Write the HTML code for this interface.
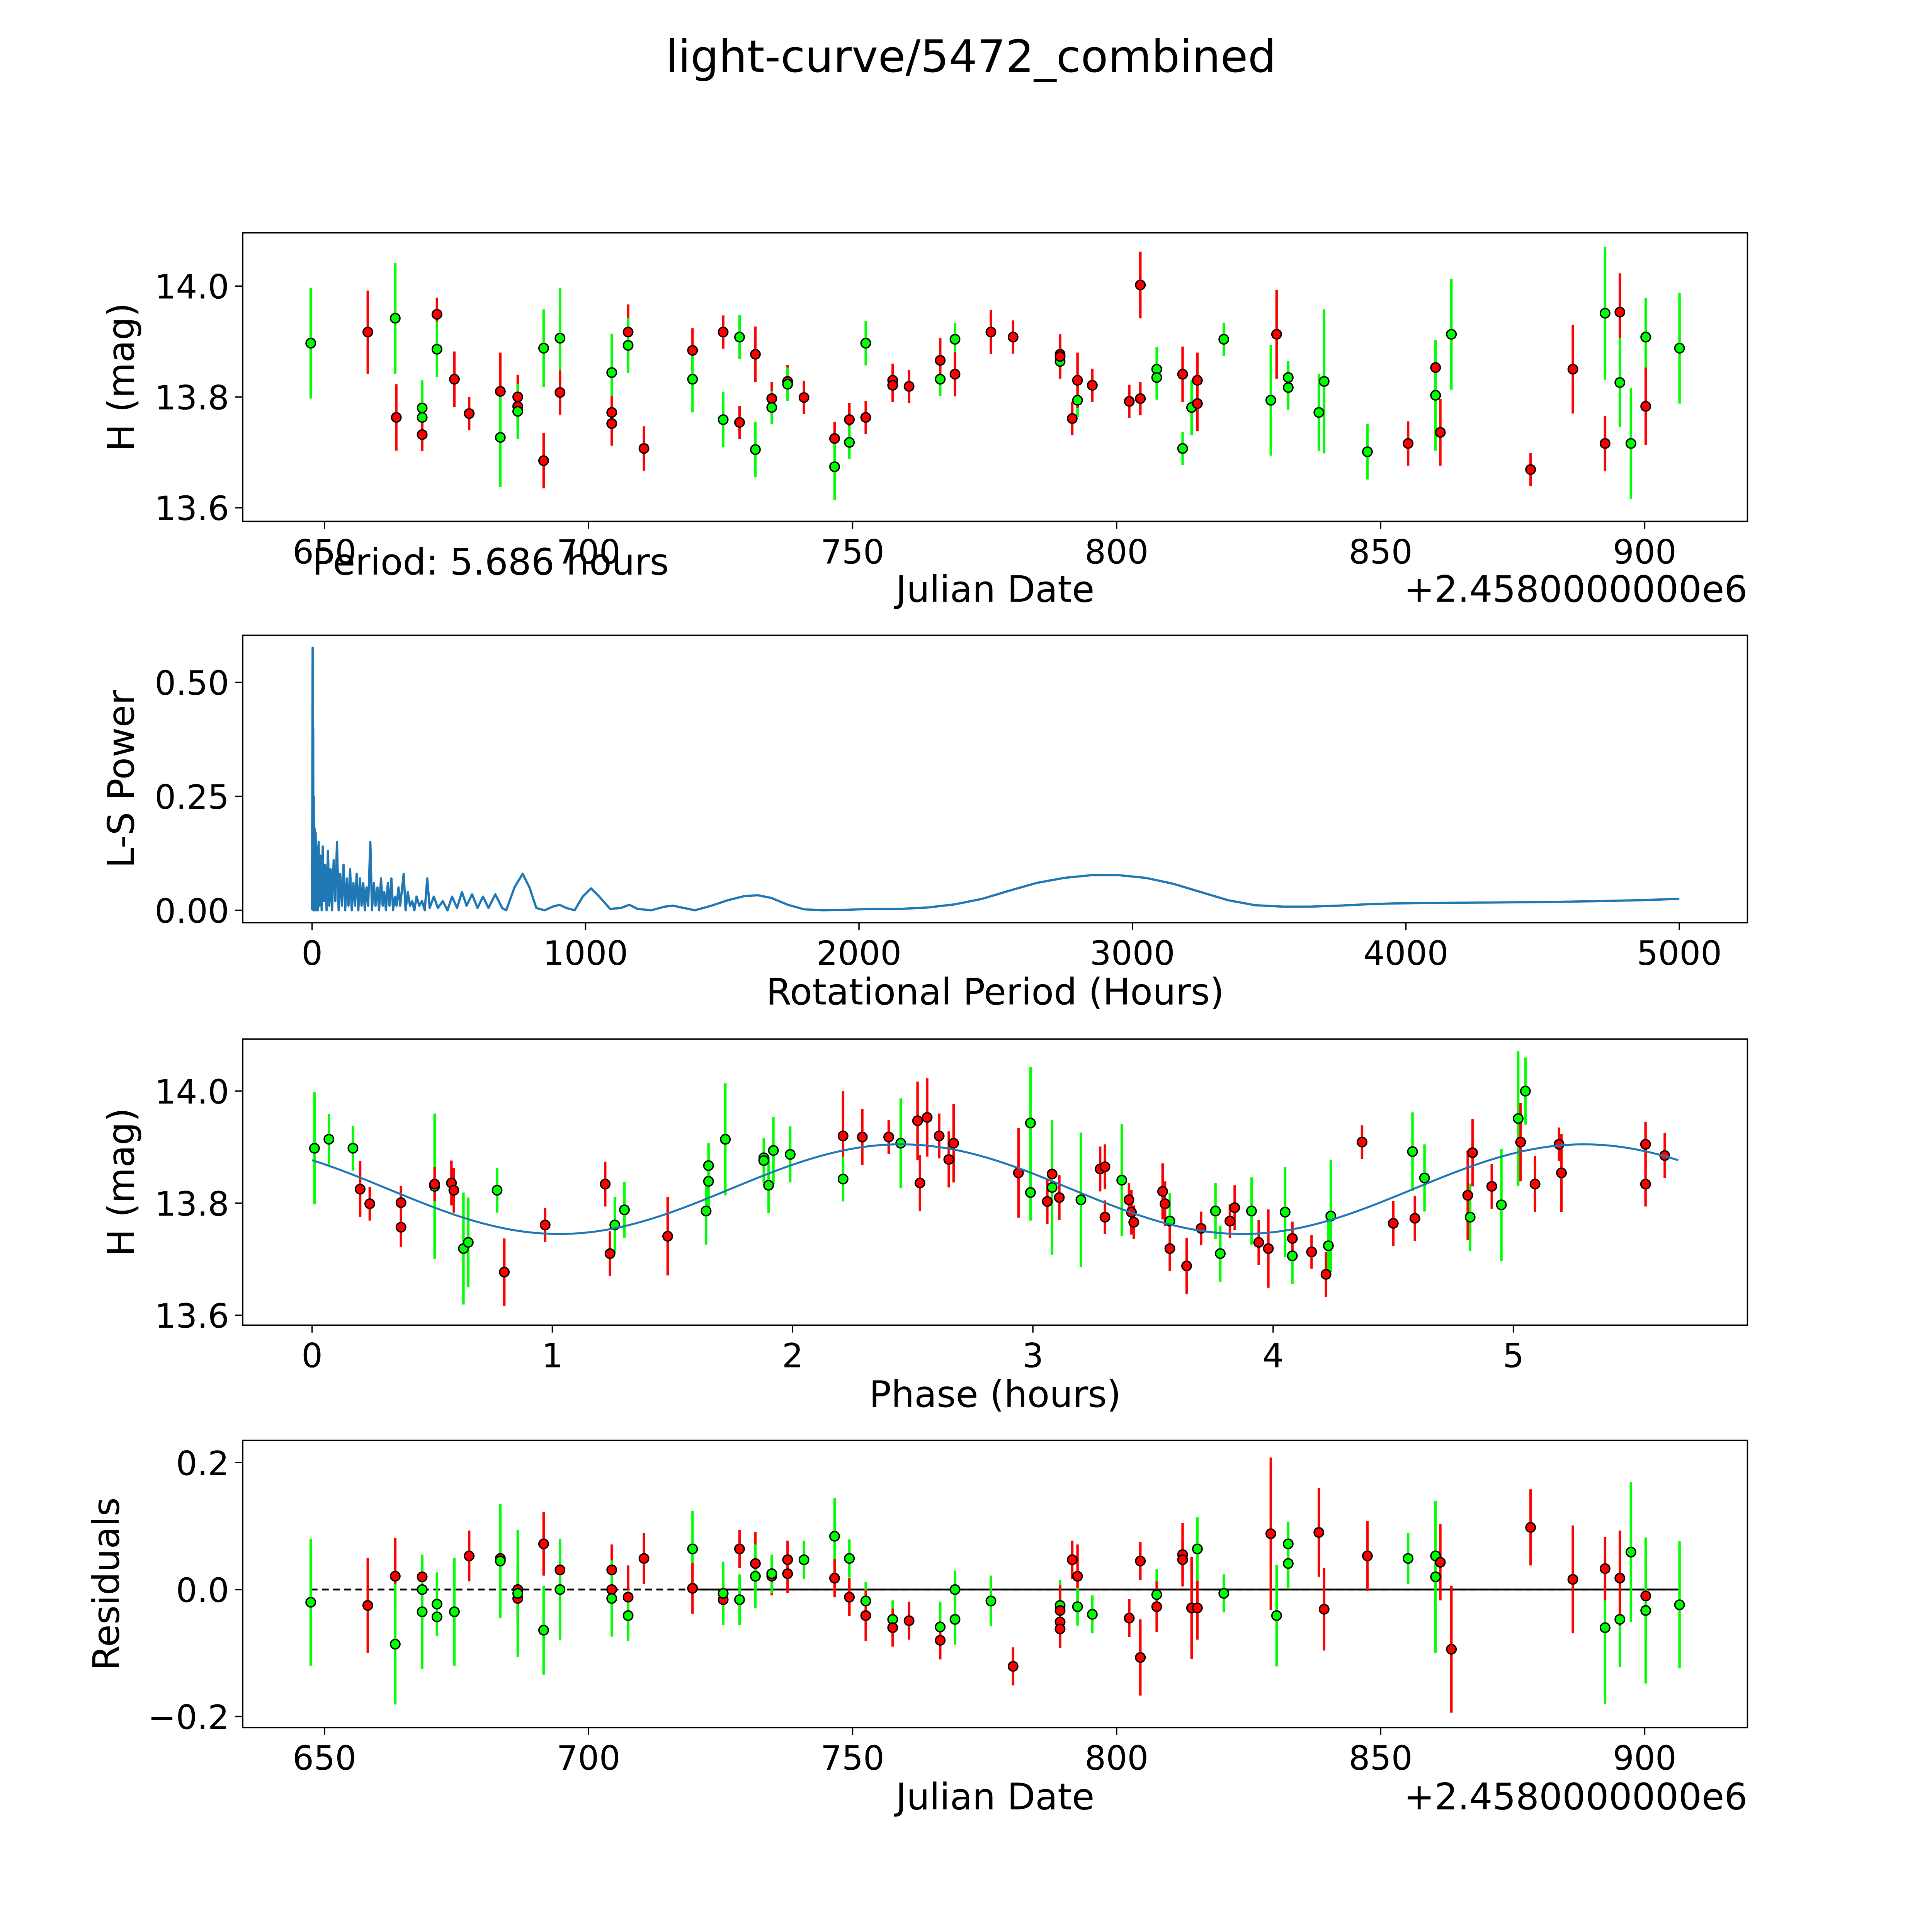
<!DOCTYPE html>
<html><head><meta charset="utf-8">
<style>
html,body{margin:0;padding:0;background:#fff;width:100%;height:100%;overflow:hidden;}
svg{display:block;position:fixed;left:0;top:0;width:100vw;height:100vh;}
text{font-family:"DejaVu Sans","Liberation Sans",sans-serif;fill:#000;}
</style></head>
<body>
<svg id="fig" xmlns="http://www.w3.org/2000/svg" viewBox="0 0 1560 1560" preserveAspectRatio="none">
<rect x="0" y="0" width="1560" height="1560" fill="#fff"/>
<text x="784" y="58" font-size="36" text-anchor="middle">light-curve/5472_combined</text>
<g id="p1"></g>
<g id="p2"></g>
<g id="p3"></g>
<g id="p4"></g>
</svg>
<script>
// ---- Panel 1 data: Julian date offset, H mag, error, color
const p1Dates=[647.4,658.2,663.4,663.6,668.5,668.5,668.5,671.3,671.3,674.6,677.4,683.3,683.3,686.6,686.6,686.6,691.5,691.5,694.6,694.6,704.4,704.4,704.4,707.5,707.5,710.5,719.7,719.7,725.5,725.5,728.6,728.6,731.6,731.6,734.7,734.7,737.7,737.7,740.8,746.6,746.6,749.4,749.4,752.5,752.5,757.6,757.6,760.7,766.6,766.6,769.4,769.4,776.2,780.4,789.3,789.3,789.3,791.6,792.6,792.6,795.4,802.4,804.5,804.5,807.6,807.6,812.5,812.5,814.2,815.3,815.3,820.3,829.2,830.3,832.5,832.5,838.3,839.3,847.5,855.2,860.4,860.4,861.3,863.4,878.4,886.4,892.5,892.5,895.3,895.3,897.4,900.2,900.2,906.6];
const p1Mags=[13.897,13.917,13.942,13.763,13.78,13.763,13.732,13.949,13.886,13.832,13.77,13.81,13.727,13.80,13.783,13.774,13.685,13.888,13.906,13.808,13.844,13.772,13.752,13.917,13.893,13.707,13.884,13.832,13.917,13.759,13.908,13.754,13.877,13.705,13.797,13.781,13.828,13.823,13.799,13.725,13.674,13.759,13.718,13.763,13.897,13.830,13.821,13.819,13.832,13.866,13.904,13.841,13.917,13.908,13.877,13.864,13.873,13.761,13.794,13.830,13.821,13.792,13.797,14.002,13.850,13.835,13.841,13.707,13.781,13.788,13.830,13.904,13.794,13.913,13.835,13.817,13.772,13.828,13.701,13.716,13.853,13.803,13.736,13.913,13.669,13.850,13.951,13.716,13.953,13.826,13.716,13.908,13.783,13.888];
const p1Errs=[0.1,0.075,0.1,0.06,0.05,0.05,0.03,0.03,0.05,0.05,0.03,0.07,0.09,0.04,0.04,0.05,0.05,0.07,0.09,0.04,0.07,0.03,0.04,0.05,0.05,0.04,0.04,0.06,0.03,0.05,0.04,0.03,0.05,0.05,0.03,0.03,0.03,0.03,0.03,0.03,0.06,0.03,0.03,0.03,0.04,0.03,0.03,0.03,0.03,0.04,0.03,0.04,0.04,0.03,0.03,0.03,0.04,0.03,0.03,0.05,0.03,0.03,0.03,0.06,0.04,0.04,0.05,0.03,0.05,0.05,0.05,0.03,0.1,0.08,0.03,0.04,0.07,0.13,0.05,0.04,0.04,0.1,0.06,0.1,0.03,0.08,0.12,0.05,0.07,0.08,0.1,0.07,0.07,0.1];
const p1Colors="grgrggrrgrrrgrrgrggrgrrrgrrgrggrrgrgrgrrgrgrgrrrgrgrrrrgrrgrrrrrggrggrrggrgggggrrgrgrrgrrgggrgr";
// ---- Panel 2 data: Lomb-Scargle periodogram (period hours, power)
const lsPeriods=[0,1,2,3,4,5,6,7,9,11,13,15,18,21,24,27,31,35,39,43,48,53,58,63,68,73,79,85,91,97,103,109,115,121,127,133,139,145,151,157,163,169,175,181,187,193,199,205,213,219,226,232,239,245,252,258,264,270,277,283,290,296,303,309,316,322,335,342,350,358,366,374,382,392,402,412,421,430,445,460,478,495,512,530,548,565,585,605,625,645,670,695,710,740,770,795,820,850,880,905,930,960,990,1020,1050,1090,1130,1160,1190,1240,1290,1320,1360,1400,1460,1520,1580,1630,1680,1740,1800,1870,1950,2050,2150,2250,2350,2450,2550,2650,2750,2850,2950,3050,3150,3250,3350,3450,3550,3650,3750,3850,3950,4100,4300,4500,4700,4850,5000];
const lsPowers=[0,0.3,0.576,0.05,0.40,0,0.25,0,0.18,0,0.17,0,0.14,0,0.15,0.01,0.12,0,0.14,0.02,0.1,0,0.13,0.01,0.09,0,0.11,0.02,0.15,0,0.08,0.01,0.1,0,0.07,0.01,0.09,0,0.06,0.01,0.08,0,0.07,0.01,0.06,0,0.05,0.01,0.15,0,0.06,0.01,0.05,0,0.07,0.01,0.04,0,0.06,0.01,0.07,0,0.03,0.01,0.05,0.01,0.08,0,0.04,0.01,0.02,0,0.03,0.01,0.02,0,0.07,0.005,0.03,0.005,0.02,0,0.03,0.005,0.04,0.01,0.035,0.005,0.03,0.005,0.035,0.005,0,0.05,0.08,0.05,0.005,0,0.008,0.012,0.005,0,0.03,0.048,0.03,0.003,0.005,0.012,0.003,0,0.008,0.01,0.005,0,0.01,0.022,0.031,0.033,0.027,0.012,0.002,0,0.001,0.003,0.003,0.006,0.013,0.025,0.043,0.060,0.071,0.077,0.077,0.071,0.058,0.040,0.022,0.011,0.008,0.008,0.010,0.013,0.015,0.016,0.017,0.018,0.020,0.022,0.025];
// ---- Panel 3 data: phase (hours), mag, error, color
const phPhases=[0.01,0.07,0.17,0.2,0.24,0.37,0.37,0.51,0.51,0.58,0.59,0.63,0.65,0.77,0.8,0.97,1.22,1.24,1.26,1.3,1.48,1.64,1.65,1.65,1.72,1.88,1.88,1.9,1.92,1.99,2.21,2.21,2.29,2.4,2.45,2.52,2.53,2.56,2.61,2.65,2.67,2.94,2.99,2.99,3.06,3.08,3.08,3.11,3.2,3.28,3.3,3.3,3.37,3.4,3.41,3.42,3.54,3.55,3.57,3.57,3.64,3.7,3.76,3.78,3.82,3.84,3.91,3.94,3.98,4.05,4.08,4.08,4.16,4.22,4.23,4.24,4.37,4.5,4.58,4.59,4.63,4.81,4.82,4.83,4.91,4.95,5.02,5.03,5.05,5.09,5.19,5.2,5.55,5.55,5.63];
const phMags=[13.898,13.914,13.898,13.825,13.799,13.801,13.757,13.83,13.834,13.836,13.823,13.719,13.73,13.823,13.677,13.761,13.834,13.71,13.761,13.788,13.741,13.786,13.867,13.839,13.914,13.881,13.876,13.832,13.894,13.887,13.92,13.843,13.918,13.918,13.907,13.947,13.836,13.953,13.92,13.878,13.907,13.854,13.943,13.819,13.803,13.852,13.828,13.81,13.806,13.861,13.865,13.775,13.841,13.806,13.784,13.766,13.821,13.799,13.768,13.719,13.688,13.755,13.786,13.71,13.768,13.792,13.786,13.73,13.719,13.784,13.706,13.737,13.713,13.673,13.724,13.777,13.909,13.764,13.892,13.773,13.845,13.814,13.775,13.89,13.83,13.797,13.951,13.909,14.0,13.834,13.905,13.854,13.834,13.905,13.885];
const phErrs=[0.1,0.045,0.04,0.05,0.03,0.03,0.035,0.13,0.03,0.04,0.04,0.1,0.08,0.04,0.06,0.03,0.04,0.04,0.05,0.05,0.07,0.06,0.04,0.05,0.1,0.03,0.04,0.05,0.06,0.05,0.08,0.04,0.05,0.03,0.08,0.07,0.05,0.07,0.04,0.05,0.07,0.08,0.1,0.05,0.04,0.05,0.12,0.04,0.12,0.04,0.04,0.03,0.1,0.03,0.04,0.03,0.05,0.04,0.05,0.04,0.05,0.03,0.05,0.05,0.03,0.04,0.06,0.04,0.07,0.08,0.05,0.03,0.03,0.04,0.06,0.1,0.03,0.04,0.07,0.04,0.06,0.08,0.06,0.06,0.04,0.1,0.12,0.07,0.06,0.05,0.03,0.07,0.04,0.04,0.04];
const phColors="gggrrrrgrrrgggrrrrggrgggggggggrgrrgrrrrrrrggrrgrgrrrgrrrrrgrrrggrrgrrggrrrggrrgrgrgrrggrgrrrrr";
// model curve harmonic parameters: mean, amplitude, peak phase, harmonic period
const modelParams=[13.825,0.08,2.45,2.843];
const modelMaxPhase=[5.686];
// ---- Panel 4 data: residuals
const resDates=[647.4,658.2,663.4,663.4,668.5,668.5,668.5,671.3,671.3,674.6,677.4,683.3,683.3,686.6,686.6,686.6,691.5,691.5,694.6,694.6,704.4,704.4,704.4,707.5,707.5,710.5,719.7,719.7,725.5,725.5,728.6,728.6,731.6,731.6,734.7,734.7,737.7,737.7,740.8,746.6,746.6,749.4,749.4,752.5,752.5,757.6,757.6,760.7,766.6,766.6,769.4,769.4,776.2,780.4,789.3,789.3,789.3,789.3,791.6,792.6,792.6,795.4,802.4,804.5,804.5,807.6,807.6,812.5,812.5,814.2,815.3,815.3,820.3,829.2,830.3,832.5,832.5,838.3,839.3,847.5,855.2,860.4,860.4,861.3,863.4,878.4,886.4,892.5,892.5,895.3,895.3,897.4,900.2,900.2,906.6];
const resVals=[-0.02,-0.025,0.021,-0.086,0.02,0.0,-0.035,-0.023,-0.043,-0.035,0.053,0.049,0.045,0.0,-0.014,-0.006,0.072,-0.064,0.031,0.0,0.031,0.0,-0.014,-0.012,-0.041,0.049,0.064,0.002,-0.016,-0.006,0.064,-0.016,0.041,0.021,0.021,0.025,0.047,0.025,0.047,0.084,0.018,0.049,-0.012,-0.018,-0.041,-0.047,-0.06,-0.049,-0.059,-0.08,0.0,-0.047,-0.018,-0.121,-0.025,-0.033,-0.051,-0.062,0.047,0.021,-0.027,-0.039,-0.045,0.045,-0.107,-0.008,-0.027,0.055,0.047,-0.029,-0.029,0.064,-0.006,0.088,-0.041,0.072,0.041,0.09,-0.031,0.053,0.049,0.053,0.02,0.043,-0.094,0.098,0.016,-0.06,0.033,-0.047,0.018,0.059,-0.01,-0.033,-0.024];
const resErrs=[0.1,0.075,0.06,0.095,0.03,0.05,0.09,0.05,0.03,0.085,0.04,0.07,0.09,0.04,0.04,0.1,0.05,0.07,0.04,0.08,0.04,0.03,0.06,0.05,0.04,0.04,0.06,0.04,0.03,0.05,0.03,0.04,0.05,0.05,0.03,0.03,0.03,0.03,0.03,0.06,0.03,0.03,0.03,0.03,0.04,0.03,0.03,0.03,0.04,0.03,0.03,0.04,0.04,0.03,0.04,0.04,0.03,0.03,0.03,0.05,0.03,0.03,0.03,0.03,0.06,0.04,0.04,0.05,0.03,0.08,0.05,0.05,0.03,0.12,0.08,0.035,0.04,0.07,0.065,0.055,0.04,0.06,0.12,0.06,0.1,0.06,0.085,0.12,0.05,0.075,0.075,0.11,0.07,0.115,0.1];
const resColors="grrgrggggg" + "rrgrrgrgrg" + "rrgrgrgrrg" + "rgrgrgrrgg" + "rgrgrgrrgr" + "gggrgrrrrr" + "ggrrrgrrrrrg" + "grgggrrrgggrrrrgrgrgrgggrr";

const SVGNS="http://www.w3.org/2000/svg";
const COL={r:"#ff0000",g:"#00ff00"};
const TICK_FS=27, LABEL_FS=29.5;
function el(parent,tag,attrs){const e=document.createElementNS(SVGNS,tag);for(const k in attrs)e.setAttribute(k,attrs[k]);parent.appendChild(e);return e;}
function lin(d0,d1,r0,r1){return v=>r0+(v-d0)*(r1-r0)/(d1-d0);}

function axes(g,box,xs,ys,xTicks,xLabels,yTicks,yLabels,xTitle,yTitle,yTitleX,xTitleY,offsetText){
  const f=el(g,'rect',{x:box.x0,y:box.y0,width:box.x1-box.x0,height:box.y1-box.y0,fill:'none',stroke:'#000','stroke-width':1.1});
  
  
  xTicks.forEach((t,i)=>{
    const x=xs(t);
    const tk=el(g,'line',{x1:x,x2:x,y1:box.y1,y2:box.y1+6,stroke:'#000','stroke-width':1.1});
    
    
    const tl=el(g,'text',{x:x,y:box.y1+34,'font-size':TICK_FS,'text-anchor':'middle'});tl.textContent=xLabels[i];
    
    
  });
  yTicks.forEach((t,i)=>{
    const y=ys(t);
    const tk=el(g,'line',{x1:box.x0-6,x2:box.x0,y1:y,y2:y,stroke:'#000','stroke-width':1.1});
    
    
    const tl=el(g,'text',{x:box.x0-11,y:y+10,'font-size':TICK_FS,'text-anchor':'end'});tl.textContent=yLabels[i];
    
    
  });
  const xt=el(g,'text',{x:(box.x0+box.x1)/2,y:xTitleY,'font-size':LABEL_FS,'text-anchor':'middle'});xt.textContent=xTitle;
  
  
  const cy=(box.y0+box.y1)/2;
  const yt=el(g,'text',{x:yTitleX,y:cy,'font-size':LABEL_FS,'text-anchor':'middle',transform:`rotate(-90 ${yTitleX} ${cy})`});yt.textContent=yTitle;
  
  
  if(offsetText){
    const ot=el(g,'text',{x:box.x1,y:xTitleY,'font-size':LABEL_FS,'text-anchor':'end'});ot.textContent=offsetText;
    
    
  }
}
function points(g,xsArr,ysArr,errs,cols,xs,ys){
  const eg=el(g,'g',{});
  
  
  const mg=el(g,'g',{});
  
  
  for(let i=0;i<xsArr.length;i++){
    const x=xs(xsArr[i]);const c=COL[cols[i]]||COL.r;
    const b=el(eg,'line',{x1:x,x2:x,y1:ys(ysArr[i]-errs[i]),y2:ys(ysArr[i]+errs[i]),stroke:c,'stroke-width':2});
    
    
  }
  for(let i=0;i<xsArr.length;i++){
    const c=COL[cols[i]]||COL.r;
    const m=el(mg,'circle',{cx:xs(xsArr[i]),cy:ys(ysArr[i]),r:3.8,fill:c,stroke:'#000','stroke-width':1.1});
    
    
  }
}
const jdTicks=[650,700,750,800,850,900];
const jdLabels=["650","700","750","800","850","900"];
// Panel 1
(function(){
  const g=document.getElementById('p1');
  const box={x0:196,x1:1411,y0:188,y1:421};
  const xs=lin(650,900,262,1328), ys=lin(13.6,14.0,410,231);
  axes(g,box,xs,ys,jdTicks,jdLabels,[13.6,13.8,14.0],["13.6","13.8","14.0"],"Julian Date","H (mag)",108,486,"+2.4580000000e6");
  points(g,p1Dates,p1Mags,p1Errs,p1Colors,xs,ys);
  const t=el(g,'text',{x:252,y:464,'font-size':LABEL_FS});t.textContent="Period: 5.686 hours";
  
  
})();
// Panel 2
(function(){
  const g=document.getElementById('p2');
  const box={x0:196,x1:1411,y0:513,y1:745};
  const xs=lin(0,5000,252,1356), ys=lin(0,0.5,735,551);
  axes(g,box,xs,ys,[0,1000,2000,3000,4000,5000],["0","1000","2000","3000","4000","5000"],[0,0.25,0.5],["0.00","0.25","0.50"],"Rotational Period (Hours)","L-S Power",108,811,null);
  const d=lsPeriods.map((p,i)=>(i?'L':'M')+xs(p).toFixed(2)+' '+ys(lsPowers[i]).toFixed(2)).join(' ');
  const pl=el(g,'path',{d:d,fill:'none',stroke:'#1f77b4','stroke-width':1.8,'stroke-linejoin':'round'});
  
  
})();
// Panel 3
(function(){
  const g=document.getElementById('p3');
  const box={x0:196,x1:1411,y0:839,y1:1070};
  const xs=lin(0,5,252,1222), ys=lin(13.6,14.0,1062,881);
  axes(g,box,xs,ys,[0,1,2,3,4,5],["0","1","2","3","4","5"],[13.6,13.8,14.0],["13.6","13.8","14.0"],"Phase (hours)","H (mag)",108,1136,null);
  points(g,phPhases,phMags,phErrs,phColors,xs,ys);
  const [m,a,p0,per]=modelParams;let d='';
  for(let i=0;i<=200;i++){const p=modelMaxPhase[0]*i/200;const v=m+a*Math.cos(2*Math.PI*(p-p0)/per);d+=(i?'L':'M')+xs(p).toFixed(2)+' '+ys(v).toFixed(2)+' ';}
  const ml=el(g,'path',{d:d,fill:'none',stroke:'#1f77b4','stroke-width':1.6});
  
  
})();
// Panel 4
(function(){
  const g=document.getElementById('p4');
  const box={x0:196,x1:1411,y0:1163,y1:1395};
  const xs=lin(650,900,262,1328), ys=lin(-0.2,0.2,1386,1181);
  axes(g,box,xs,ys,jdTicks,jdLabels,[-0.2,0,0.2],["\u22120.2","0.0","0.2"],"Julian Date","Residuals",96,1461,"+2.4580000000e6");
  const zl=el(g,'line',{x1:xs(647.4),x2:xs(906.6),y1:ys(0),y2:ys(0),stroke:'#000','stroke-width':1.5,'stroke-dasharray':'5.5 3.5'});
  
  
  const zs=el(g,'line',{x1:xs(719),x2:xs(906.6),y1:ys(0),y2:ys(0),stroke:'#000','stroke-width':1.5});
  
  
  points(g,resDates,resVals,resErrs,resColors,xs,ys);
})();
</script>
</body></html>
